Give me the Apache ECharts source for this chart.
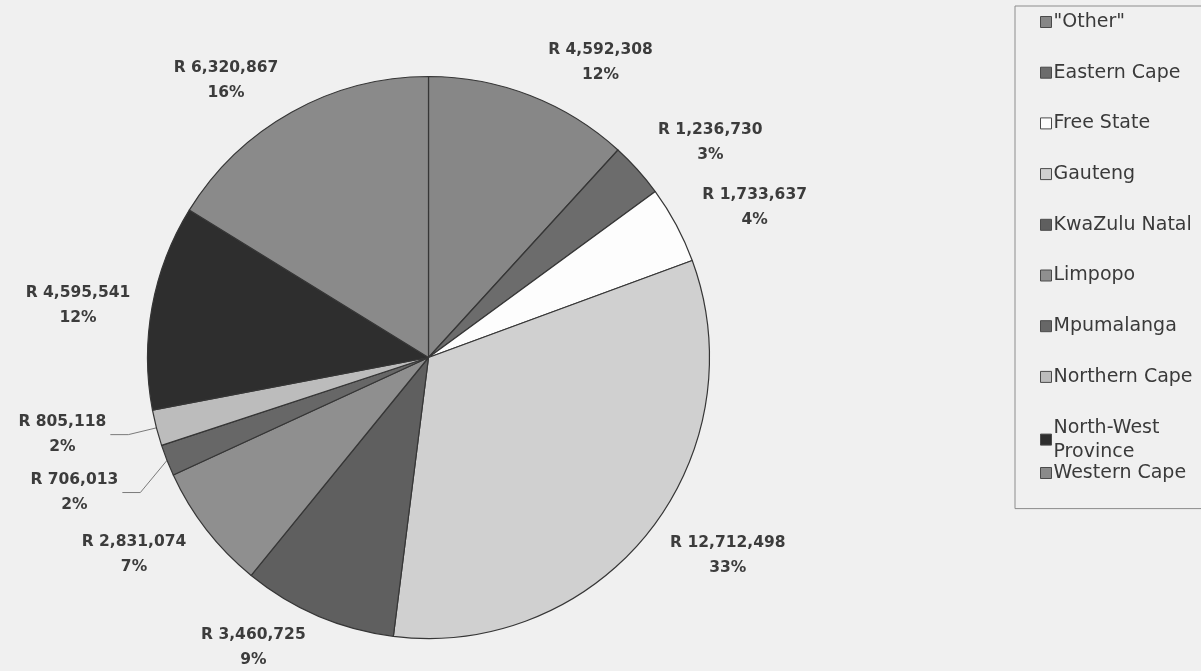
<!DOCTYPE html>
<html>
<head>
<meta charset="utf-8">
<script src="https://cdn.jsdelivr.net/npm/echarts@6/dist/echarts.min.js"></script>
<style>
  html, body { margin: 0; padding: 0; background: #f0f0f0; }
  #chart { width: 1201px; height: 671px; }
</style>
</head>
<body>
<div id="chart"></div>
<script>
// Spending by province (Rand)
const provinces = ['"Other"', 'Eastern Cape', 'Free State', 'Gauteng', 'KwaZulu Natal',
  'Limpopo', 'Mpumalanga', 'Northern Cape', 'North-West Province', 'Western Cape'];
const amounts = [4592308, 1236730, 1733637, 12712498, 3460725,
  2831074, 706013, 805118, 4595541, 6320867];
const sliceColors = ['#878787', '#6c6c6c', '#fdfdfd', '#d0d0d0', '#5f5f5f',
  '#8f8f8f', '#676767', '#bcbcbc', '#2e2e2e', '#8a8a8a'];

// Label placement: turn (degrees) off each slice's mid-angle, and gap beyond the rim
const labelTurn = [9, 4.5, 3.5, -5, 8, 4, 0.6, 2.6, -2, -7];
const labelGap = [13, 17, 20, 16, 9, 16, 48, 45, 18, 11];
const leaderSlices = ['Mpumalanga', 'Northern Cape'];

const CX = 428.5, CY = 357.5, R = 281;

const total = amounts.reduce((a, b) => a + b, 0);
const midAngles = [];
let acc = 0;
amounts.forEach(v => { midAngles.push((acc + v / 2) / total * 360); acc += v; });

function dir(deg) {
  const t = deg * Math.PI / 180;
  return [Math.sin(t), -Math.cos(t)];
}

const chart = echarts.init(document.getElementById('chart'), null, { renderer: 'canvas' });

const legendText = {
  fontFamily: 'DejaVu Sans',
  fontSize: 19,
  color: '#3a3a3a',
  lineHeight: 24,
  padding: [0, 0, 0, -3]
};

chart.setOption({
  backgroundColor: '#f0f0f0',
  animation: false,
  legend: [
    {
      data: provinces.slice(0, 9),
      orient: 'vertical',
      left: 1015,
      top: 6,
      padding: [4, 40, 45, 25],
      itemGap: 26.7,
      itemWidth: 11,
      itemHeight: 11,
      icon: 'rect',
      selectedMode: false,
      borderColor: '#8c8c8c',
      borderWidth: 1,
      itemStyle: { borderColor: '#4a4a4a', borderWidth: 1 },
      textStyle: legendText,
      formatter: name => name === 'North-West Province' ? 'North-West\nProvince' : name
    },
    {
      data: provinces.slice(9),
      orient: 'vertical',
      left: 1015,
      top: 461,
      padding: [0, 0, 0, 25],
      itemWidth: 11,
      itemHeight: 11,
      icon: 'rect',
      selectedMode: false,
      itemStyle: { borderColor: '#4a4a4a', borderWidth: 1 },
      textStyle: legendText
    }
  ],
  series: [{
    type: 'pie',
    center: [CX, CY],
    radius: R,
    startAngle: 90,
    clockwise: true,
    avoidLabelOverlap: false,
    emphasis: { disabled: true },
    itemStyle: { borderColor: '#363636', borderWidth: 1.2 },
    label: {
      show: true,
      position: 'outside',
      fontFamily: 'DejaVu Sans',
      fontWeight: 'bold',
      fontSize: 15.5,
      lineHeight: 25,
      color: '#3c3c3c',
      formatter: p => 'R ' + p.value.toLocaleString('en-US') + '\n' + Math.round(p.percent) + '%'
    },
    labelLine: { show: false },
    labelLayout: params => {
      const i = params.dataIndex;
      const w = params.labelRect.width, h = params.labelRect.height;
      const u = dir(midAngles[i] + labelTurn[i]);
      const support = w / 2 * Math.abs(u[0]) + h / 2 * Math.abs(u[1]);
      const d = R + labelGap[i] + support;
      const x = CX + d * u[0];
      const y = CY + d * u[1];
      const out = { x: x, y: y, align: 'center', verticalAlign: 'middle' };
      if (leaderSlices.indexOf(provinces[i]) >= 0) {
        const m = dir(midAngles[i]);
        const p0 = [CX + R * m[0], CY + R * m[1]];
        const p2 = [x + w / 2 + 4, y];
        const p1 = [p2[0] + 18, y];
        out.labelLinePoints = [p0, p1, p2];
      }
      return out;
    },
    data: provinces.map((name, i) => {
      const item = { name: name, value: amounts[i], itemStyle: { color: sliceColors[i] } };
      if (leaderSlices.indexOf(name) >= 0) {
        item.labelLine = { show: true, lineStyle: { color: '#7a7a7a', width: 1 } };
      }
      return item;
    })
  }]
});
</script>
</body>
</html>
